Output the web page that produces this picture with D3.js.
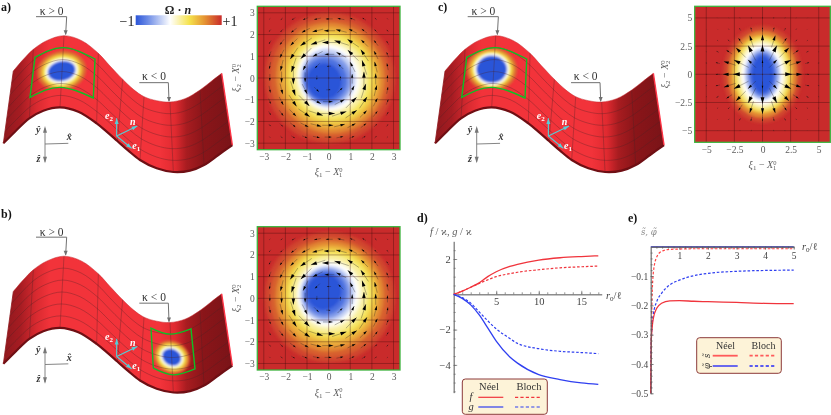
<!DOCTYPE html>
<html>
<head>
<meta charset="utf-8">
<script src="https://cdnjs.cloudflare.com/ajax/libs/d3/7.8.5/d3.min.js"></script>
<style>
  html, body { margin: 0; background: #fff; }
  svg { display: block; filter: blur(0.35px); font-family: "Liberation Serif", serif; }
</style>
</head>
<body>
<script>
// --- surface outline, read off panel a) in 3x zoom units
const sheetTop = [[40,213],[70,178],[100,148],[140,122],[192,107],[245,122],[295,160],[330,198],[368,238],[400,268],[432,290],[470,302],[510,306],[555,296],[600,270],[635,243],[665,220]];
const sheetBottom = [[10,430],[45,395],[88,355],[130,332],[180,322],[235,335],[290,370],[320,395],[352,423],[385,452],[420,480],[470,505],[520,516],[570,512],[612,495],[655,465],[697,435]];
const meshColumns = [2,4,6,8,10,12,14];
const meshRows = [1/6,2/6,3/6,4/6,5/6];
const shadeOffsets = [10,60,110,150,480,525,560,610,697];
const shadeColors = ['#8f181d','#a51c22','#d92a30','#f2333a','#f2333a','#e02a30','#a81c20','#8a1519','#7a1418'];

// --- colour bar / field colour
const colorValues = [-1,-0.72,-0.2,0.25,0.6,1];
const colorStops = ['#2b55d8','#6d8ce6','#ffffff','#f5e24c','#e59433','#c92b2b'];

// --- skyrmion spot on the sheet, [value, rx, ry]
const spotBandsA = [[0.75,74,60],[0.5,64,52],[0.25,57,46],[0,51,40],[-0.2,47,35],[-0.6,43,31],[-1,40,28]];
const spotBandsB = [[0.75,56,48],[0.5,49,42],[0.25,43,37],[0,38,32],[-0.2,34,28],[-0.6,31,25],[-1,28,23]];
const spotBandsC = [[0.75,76,66],[0.5,67,59],[0.25,60,53],[0,55,49],[-0.2,51,46],[-0.6,47,42],[-1,44,39]];
const patchA = {top:[[105,172],[190,143],[285,177]], bottom:[[90,292],[180,262],[280,294]]};
const patchB = {top:[[453,323],[510,341],[573,325]], bottom:[[460,443],[520,463],[585,445]]};

// --- heat maps: contour bands [value, rx, ry, cx, cy]
const heatBandsA = [[0.9,3.0,3.0,0.05,0],[0.8,2.75,2.75,0.05,0],[0.65,2.5,2.55,0.08,0],[0.5,2.3,2.35,0.08,0],[0.35,2.1,2.15,0.1,0],[0.2,1.92,1.98,0.1,0.02],[0.05,1.72,1.78,0.08,0.02],[-0.1,1.52,1.6,0.05,0.03],[-0.2,1.38,1.5,0,0.02],[-0.4,1.28,1.36,-0.03,0],[-0.65,1.14,1.2,-0.08,-0.05],[-0.85,1.0,1.04,-0.15,-0.1],[-1,0.8,0.85,-0.2,-0.15]];
const heatBandsB = [[0.9,3.0,3.0,0.05,0.05],[0.8,2.75,2.75,0.05,0.05],[0.65,2.5,2.55,0.05,0.1],[0.5,2.3,2.35,0.05,0.12],[0.35,2.12,2.15,0.07,0.17],[0.2,1.95,1.98,0.07,0.2],[0.05,1.75,1.8,0.05,0.2],[-0.1,1.52,1.58,0.02,0.2],[-0.2,1.38,1.45,-0.02,0.2],[-0.4,1.27,1.32,-0.06,0.2],[-0.65,1.12,1.18,-0.1,0.22],[-0.85,0.98,1.02,-0.15,0.25],[-1,0.8,0.85,-0.2,0.3]];
const heatBandsC = [[0.9,3.5,4.3,0,0],[0.65,3.05,3.85,0,0],[0.35,2.65,3.45,0,0],[0.15,2.4,3.2,0,0],[-0.05,2.12,2.95,0,0],[-0.2,1.85,2.65,0,0],[-0.5,1.58,2.28,0,0],[-0.8,1.28,2.0,0,0],[-1,1.0,1.7,0,0]];

// --- arrow field, rows top to bottom, columns left to right
const swirlAngle = [
  [225,219,211,202,191,180,169,158,149,141,135],
  [231,225,217,207,194,180,166,153,143,135,129],
  [239,233,225,214,198,180,162,146,135,127,121],
  [248,243,236,225,207,180,153,135,124,117,112],
  [259,256,252,243,225,180,135,117,108,104,101],
  [270,270,270,270,270,180, 90, 90, 90, 90, 90],
  [281,284,288,297,315,  0, 45, 63, 72, 76, 79],
  [292,297,304,315,333,  0, 27, 45, 56, 63, 68],
  [301,307,315,326,342,  0, 18, 34, 45, 53, 59],
  [309,315,323,333,346,  0, 14, 27, 37, 45, 51],
  [315,321,329,338,349,  0, 11, 22, 31, 39, 45]];
const swirlLength = [
  [1,2,3,4,5,5,5,4,3,2,1],
  [2,3,5,6.5,8,8,8,6.5,5,3,2],
  [3,5,7,10,11,11,11,10,7,5,3],
  [4,6.5,10,11,8,7,8,11,10,6.5,4],
  [5,8,11,8,5,3,5,8,11,8,5],
  [5,8,11,7,3,1,3,7,11,8,5],
  [5,8,11,8,5,3,5,8,11,8,5],
  [4,6.5,10,11,8,7,8,11,10,6.5,4],
  [3,5,7,10,11,11,11,10,7,5,3],
  [2,3,5,6.5,8,8,8,6.5,5,3,2],
  [1,2,3,4,5,5,5,4,3,2,1]];
const radialLength = [
  [0.2,0.3,0.5,0.7,1,1,1,0.7,0.5,0.3,0.2],
  [0.3,0.5,1,2,3,3,3,2,1,0.5,0.3],
  [0.5,1,2,5,9,10,9,5,2,1,0.5],
  [0.7,2,5,10,12,12,12,10,5,2,0.7],
  [1,3,9,12,8,5,8,12,9,3,1],
  [1,3,10,12,5,1,5,12,10,3,1],
  [1,3,9,12,8,5,8,12,9,3,1],
  [0.7,2,5,10,12,12,12,10,5,2,0.7],
  [0.5,1,2,5,9,10,9,5,2,1,0.5],
  [0.3,0.5,1,2,3,3,3,2,1,0.5,0.3],
  [0.2,0.3,0.5,0.7,1,1,1,0.7,0.5,0.3,0.2]];

// --- panel d)
const dX = [0,1,2,3,4,5,6.6,7.5,10,12.5,15,17];
const fNeel = [0,0.18,0.4,0.65,1.0,1.28,1.58,1.7,1.94,2.07,2.14,2.18];
const fBloch = [0,0.18,0.4,0.62,0.82,1.0,1.17,1.25,1.39,1.5,1.56,1.6];
const gNeel = [0,-0.23,-0.6,-1.17,-1.9,-2.65,-3.55,-3.9,-4.55,-4.83,-5.02,-5.1];
const gBloch = [0,-0.19,-0.5,-1.0,-1.5,-1.96,-2.5,-2.78,-3.08,-3.23,-3.3,-3.36];
const dXTicks = [5,10,15];
const dYTicks = [-4,-2,2];

// --- panel e)
const eX = [0,0.02,0.09,0.21,0.38,0.67,1,1.5,2,3,4,5];
const sNeel = [-0.5,-0.32,-0.245,-0.21,-0.193,-0.185,-0.184,-0.186,-0.1875,-0.19,-0.193,-0.194];
const sBloch = [-0.5,-0.3,-0.09,-0.035,-0.016,-0.009,-0.008,-0.007,-0.007,-0.007,-0.007,-0.007];
const phiNeel = [0,0,0,0,0,0,0,0,0,0,0,0];
const phiBloch = [-0.5,-0.32,-0.233,-0.1875,-0.159,-0.13,-0.114,-0.099,-0.091,-0.084,-0.081,-0.08];
const eXTicks = [1,2,3,4,5];
const eYTicks = [-0.5,-0.4,-0.3,-0.2,-0.1];

const width = 831, height = 415;
const red = '#f0343c', blue = '#2f3ff0';
const gray = '#5c5c5c';
const tildeFont = '"DejaVu Serif", serif';

const svg = d3.select('body').append('svg').attr('width', width).attr('height', height);
const defs = svg.append('defs');

const fieldColor = d3.scaleLinear().domain(colorValues).range(colorStops);
const z = d3.scaleLinear().domain([0, 720]).range([0, 240]); // zoom units -> px
const zline = d3.line().x(d => z(d[0])).y(d => z(d[1]));

[['soft2', 1.8], ['soft1', 0.9]].forEach(([id, s]) => {
  defs.append('filter').attr('id', id).attr('x', '-30%').attr('y', '-30%').attr('width', '160%').attr('height', '160%')
    .append('feGaussianBlur').attr('stdDeviation', s);
});

const shade = defs.append('linearGradient').attr('id', 'sheetShade')
  .attr('gradientUnits', 'userSpaceOnUse')
  .attr('x1', z(shadeOffsets[0])).attr('x2', z(shadeOffsets[shadeOffsets.length - 1])).attr('y1', 0).attr('y2', 0);
shadeOffsets.forEach((o, i) => {
  shade.append('stop')
    .attr('offset', (o - shadeOffsets[0]) / (shadeOffsets[shadeOffsets.length - 1] - shadeOffsets[0]))
    .attr('stop-color', shadeColors[i]);
});

const barGrad = defs.append('linearGradient').attr('id', 'colorBar');
colorValues.forEach((v, i) => {
  barGrad.append('stop').attr('offset', (v + 1) / 2).attr('stop-color', colorStops[i]);
});

const smooth = d3.line().x(d => z(d[0])).y(d => z(d[1])).curve(d3.curveCatmullRom);
const natural = d3.line().x(d => z(d[0])).y(d => z(d[1])).curve(d3.curveNatural);

// text with sub/superscripts: parts are [string, {dy, dx, size, italic, weight}]
function mathText(sel, parts) {
  parts.forEach(([s, o]) => {
    const t = sel.append('tspan').text(s);
    if (o && o.dy) t.attr('dy', o.dy);
    if (o && o.dx) t.attr('dx', o.dx);
    if (o && o.size) t.attr('font-size', o.size);
    if (o && o.italic) t.attr('font-style', 'italic');
    if (o && o.weight) t.attr('font-weight', o.weight);
    if (o && o.family) t.attr('font-family', o.family);
  });
  return sel;
}

function xiLabel(sel, n) {
  return mathText(sel, [
    ['ξ', {italic: true}], [n, {dy: 2, size: 7}], [' − ', {dy: -2}], ['X', {italic: true}],
    ['0', {dy: -3.5, size: 6.5}], [n, {dy: 5.5, dx: -3.5, size: 6.5}]
  ]);
}

function drawSheet(g, id, patch, spot, spotBands, spotAngle) {
  const outline = smooth(sheetTop) + 'L' + smooth(sheetBottom.slice().reverse()).slice(1) + 'Z';
  g.append('path').attr('d', outline).attr('fill', 'url(#sheetShade)');

  if (patch) {
    const d = natural(patch.top) + 'L' + natural(patch.bottom.slice().reverse()).slice(1) + 'Z';
    defs.append('clipPath').attr('id', 'patch' + id).append('path').attr('d', d);
    g.append('g').attr('clip-path', 'url(#patch' + id + ')')
      .append('g').attr('filter', 'url(#soft1)')
      .selectAll('ellipse').data(spotBands).join('ellipse')
      .attr('cx', z(spot[0])).attr('cy', z(spot[1]))
      .attr('rx', d => z(d[1])).attr('ry', d => z(d[2]))
      .attr('transform', 'rotate(' + spotAngle + ' ' + z(spot[0]) + ' ' + z(spot[1]) + ')')
      .attr('fill', d => fieldColor(d[0]));
  }

  // mesh
  const mesh = g.append('g').attr('fill', 'none').attr('stroke', '#4a2226').attr('stroke-opacity', 0.55).attr('stroke-width', 0.6);
  meshColumns.forEach(c => {
    mesh.append('line').attr('x1', z(sheetTop[c][0])).attr('y1', z(sheetTop[c][1]))
      .attr('x2', z(sheetBottom[c][0])).attr('y2', z(sheetBottom[c][1]));
  });
  meshRows.forEach(t => {
    const pts = sheetTop.map((p, i) => [p[0] + (sheetBottom[i][0] - p[0]) * t, p[1] + (sheetBottom[i][1] - p[1]) * t]);
    mesh.append('path').attr('d', smooth(pts));
  });

  if (patch) {
    const d = natural(patch.top) + 'L' + natural(patch.bottom.slice().reverse()).slice(1) + 'Z';
    g.append('path').attr('d', d).attr('fill', 'none').attr('stroke', '#0fbf25').attr('stroke-width', 1.4);
  }

  g.append('path').attr('d', smooth(sheetBottom)).attr('fill', 'none').attr('stroke', '#6f0f14').attr('stroke-width', 2.2);
  g.append('path').attr('d', smooth(sheetTop)).attr('fill', 'none').attr('stroke', '#c4262c').attr('stroke-width', 0.5);
  const last = sheetTop.length - 1;
  g.append('line').attr('x1', z(sheetTop[last][0])).attr('y1', z(sheetTop[last][1]))
    .attr('x2', z(sheetBottom[last][0])).attr('y2', z(sheetBottom[last][1]))
    .attr('stroke', '#ff3345').attr('stroke-width', 1.4);
  g.append('line').attr('x1', z(sheetTop[0][0])).attr('y1', z(sheetTop[0][1]))
    .attr('x2', z(sheetBottom[0][0])).attr('y2', z(sheetBottom[0][1]))
    .attr('stroke', '#8f181d').attr('stroke-width', 0.8);

  // curvature callouts
  [{line: [[108,50],[200,50],[197,103]], label: 'κ > 0', at: [155,46]},
   {line: [[418,248],[505,248],[507,303]], label: 'κ < 0', at: [462,241]}].forEach(c => {
    g.append('path').attr('d', zline(c.line)).attr('fill', 'none').attr('stroke', '#707070').attr('stroke-width', 1);
    const tip = c.line[2];
    g.append('path').attr('d', zline([[tip[0], tip[1] + 3],[tip[0] - 6, tip[1] - 12],[tip[0] + 6, tip[1] - 12]]) + 'Z')
      .attr('fill', '#707070');
    g.append('text').attr('x', z(c.at[0])).attr('y', z(c.at[1])).attr('text-anchor', 'middle')
      .attr('font-size', 11.5).attr('fill', '#333').text(c.label);
  });

  // lab frame
  const frame = g.append('g').attr('stroke', '#777').attr('fill', 'none').attr('stroke-width', 0.9);
  frame.append('line').attr('x1', z(135)).attr('y1', z(432)).attr('x2', z(135)).attr('y2', z(385));
  frame.append('line').attr('x1', z(135)).attr('y1', z(432)).attr('x2', z(135)).attr('y2', z(485));
  frame.append('line').attr('x1', z(135)).attr('y1', z(432)).attr('x2', z(205)).attr('y2', z(430));
  [[[135,378],[129,398],[141,398]], [[135,490],[129,470],[141,470]]].forEach(h => {
    g.append('path').attr('d', zline(h) + 'Z').attr('fill', '#777');
  });
  [['ŷ',115,398],['x̂',208,421],['ẑ',115,485]].forEach(l => {
    g.append('text').attr('x', z(l[1])).attr('y', z(l[2])).attr('text-anchor', 'middle')
      .attr('font-size', 10).attr('font-weight', 'bold').attr('font-style', 'italic').attr('fill', '#333').text(l[0]);
  });

  // local frame
  [[350,355],[412,378],[395,445]].forEach(tip => {
    const a = Math.atan2(tip[1] - 408, tip[0] - 350);
    g.append('line').attr('x1', z(350)).attr('y1', z(408)).attr('x2', z(tip[0])).attr('y2', z(tip[1]))
      .attr('stroke', '#54cfd8').attr('stroke-width', 1.1);
    const h = [[tip[0], tip[1]],
      [tip[0] - 17 * Math.cos(a) + 6 * Math.sin(a), tip[1] - 17 * Math.sin(a) - 6 * Math.cos(a)],
      [tip[0] - 17 * Math.cos(a) - 6 * Math.sin(a), tip[1] - 17 * Math.sin(a) + 6 * Math.cos(a)]];
    g.append('path').attr('d', zline(h) + 'Z').attr('fill', '#54cfd8');
  });
  [['e','2',315,358],['n','',390,375],['e','1',397,446]].forEach(l => {
    const t = g.append('text').attr('x', z(l[2])).attr('y', z(l[3])).attr('font-size', 10).attr('fill', '#fff').attr('font-weight', 'bold');
    mathText(t, [[l[0], {italic: true}]].concat(l[1] ? [[l[1], {dy: 2, size: 7}]] : []));
  });
}

function drawHeat(o) {
  const x = d3.scaleLinear().domain([-o.half, o.half]).range([o.left, o.right]);
  const y = d3.scaleLinear().domain([-o.half, o.half]).range([o.bottom, o.top]);
  const clip = 'heat' + o.id;
  defs.append('clipPath').attr('id', clip).append('rect')
    .attr('x', o.left).attr('y', o.top).attr('width', o.right - o.left).attr('height', o.bottom - o.top);
  const g = svg.append('g').attr('clip-path', 'url(#' + clip + ')');
  g.append('rect').attr('x', o.left).attr('y', o.top).attr('width', o.right - o.left).attr('height', o.bottom - o.top)
    .attr('fill', fieldColor(1));
  g.append('g').attr('filter', 'url(#soft2)')
    .selectAll('ellipse').data(o.bands).join('ellipse')
    .attr('cx', d => x(d[3])).attr('cy', d => y(d[4]))
    .attr('rx', d => x(d[1]) - x(0)).attr('ry', d => y(0) - y(d[2]))
    .attr('transform', d => 'rotate(' + o.tilt + ' ' + x(d[3]) + ' ' + y(d[4]) + ')')
    .attr('fill', d => fieldColor(d[0]));

  // grid
  g.selectAll('line.gx').data(o.grid).join('line').attr('class', 'gx')
    .attr('x1', d => x(d)).attr('x2', d => x(d)).attr('y1', o.top).attr('y2', o.bottom)
    .attr('stroke', '#3a0a0a').attr('stroke-opacity', 0.45).attr('stroke-width', 0.8);
  g.selectAll('line.gy').data(o.grid).join('line').attr('class', 'gy')
    .attr('y1', d => y(d)).attr('y2', d => y(d)).attr('x1', o.left).attr('x2', o.right)
    .attr('stroke', '#3a0a0a').attr('stroke-opacity', 0.45).attr('stroke-width', 0.8);

  // arrows
  const arrows = [];
  o.lengths.forEach((row, r) => row.forEach((len, c) => {
    arrows.push({gx: (c - 5) * o.step, gy: (5 - r) * o.step, len: len * 1.15, a: (swirlAngle[r][c] + o.turn) * Math.PI / 180});
  }));
  const ag = g.append('g');
  ag.selectAll('line').data(arrows).join('line')
    .attr('x1', d => x(d.gx) - Math.cos(d.a) * d.len * 0.7)
    .attr('y1', d => y(d.gy) + Math.sin(d.a) * d.len * 0.7)
    .attr('x2', d => x(d.gx) + Math.cos(d.a) * d.len * 0.5)
    .attr('y2', d => y(d.gy) - Math.sin(d.a) * d.len * 0.5)
    .attr('stroke', '#222').attr('stroke-opacity', 0.75).attr('stroke-width', 0.45);
  ag.selectAll('path').data(arrows).join('path')
    .attr('fill', '#000')
    .attr('d', d => {
      const tx = x(d.gx) + Math.cos(d.a) * d.len * 0.5, ty = y(d.gy) - Math.sin(d.a) * d.len * 0.5;
      const hl = d.len * 0.48, hw = d.len * 0.14;
      const bx = tx - Math.cos(d.a) * hl, by = ty + Math.sin(d.a) * hl;
      const px = Math.sin(d.a) * hw, py = Math.cos(d.a) * hw;
      return 'M' + tx + ',' + ty + 'L' + (bx + px) + ',' + (by + py) + 'L' + (bx - px) + ',' + (by - py) + 'Z';
    });

  svg.append('rect').attr('x', o.left).attr('y', o.top).attr('width', o.right - o.left).attr('height', o.bottom - o.top)
    .attr('fill', 'none').attr('stroke', '#3cb33c').attr('stroke-width', 1.3);

  const fmt = d => String(d).replace('-', '−');
  const ax = svg.append('g').attr('transform', 'translate(0,' + o.bottom + ')')
    .call(d3.axisBottom(x).tickValues(o.ticks).tickSize(0).tickPadding(3.5).tickFormat(fmt));
  const ay = svg.append('g').attr('transform', 'translate(' + o.left + ',0)')
    .call(d3.axisLeft(y).tickValues(o.ticks).tickSize(0).tickPadding(2.5).tickFormat(fmt));
  [ax, ay].forEach(a => {
    a.select('.domain').remove();
    a.selectAll('text').attr('font-family', '"Liberation Serif", serif').attr('font-size', 9.5).attr('fill', gray);
  });

  const xl = svg.append('text').attr('x', x(0)).attr('y', o.bottom + o.xlabelGap).attr('text-anchor', 'middle')
    .attr('font-size', 10).attr('fill', gray);
  xiLabel(xl, '1');
  const yl = svg.append('text').attr('transform', 'translate(' + o.ylabelX + ',' + y(0) + ') rotate(-90)').attr('text-anchor', 'middle')
    .attr('font-size', 10).attr('fill', gray);
  xiLabel(yl, '2');
}

function legend(o) {
  svg.append('rect').attr('x', o.x).attr('y', o.y).attr('width', o.w).attr('height', o.h).attr('rx', 3)
    .attr('fill', '#fdf3d8').attr('stroke', '#8c3a3a').attr('stroke-width', 1);
  ['Néel', 'Bloch'].forEach((s, i) => {
    svg.append('text').attr('x', o.heads[i]).attr('y', o.headY).attr('text-anchor', 'middle')
      .attr('font-size', o.font).attr('fill', '#333').text(s);
  });
  o.rows.forEach(r => {
    svg.append('line').attr('x1', o.solid[0]).attr('x2', o.solid[1]).attr('y1', r.y).attr('y2', r.y)
      .attr('stroke', r.color).attr('stroke-width', o.lw);
    svg.append('line').attr('x1', o.dash[0]).attr('x2', o.dash[1]).attr('y1', r.y).attr('y2', r.y)
      .attr('stroke', r.color).attr('stroke-width', o.lw).attr('stroke-dasharray', '3.2,2.2');
    const t = svg.append('text').attr('font-size', o.font).attr('font-style', 'italic').attr('fill', '#333')
      .attr('text-anchor', 'middle').text(r.label);
    if (o.rotated) t.attr('font-family', tildeFont).attr('font-size', 8.5).attr('transform', 'translate(' + (o.labelX + 3) + ',' + r.y + ') rotate(-90)');
    else t.attr('x', o.labelX).attr('y', r.y + 3);
  });
}

function curve(g, x, y, xs, ys, color, dashed, lw) {
  const line = d3.line().x((d, i) => x(xs[i])).y(d => y(d)).curve(d3.curveMonotoneX);
  g.append('path').attr('d', line(ys)).attr('fill', 'none').attr('stroke', color)
    .attr('stroke-width', lw).attr('stroke-dasharray', dashed ? '2.6,1.8' : null);
}

function styleAxis(a, size) {
  a.selectAll('path,line').attr('stroke', '#666').attr('stroke-width', 0.7);
  a.selectAll('text').attr('font-family', '"Liberation Serif", serif').attr('font-size', size).attr('fill', '#444');
}

// ---------- panel letters
[['a)', 1, 11], ['b)', 1, 218], ['c)', 438, 11], ['d)', 417, 222], ['e)', 628, 222]].forEach(l => {
  svg.append('text').attr('x', l[1]).attr('y', l[2]).attr('font-size', 12).attr('font-weight', 'bold').attr('fill', '#111').text(l[0]);
});

// ---------- surfaces
drawSheet(svg.append('g'), 'a', patchA, [185,213], spotBandsA, -12);
drawSheet(svg.append('g').attr('transform', 'translate(0,220.5)'), 'b', patchB, [515,410], spotBandsB, 30);
drawSheet(svg.append('g').attr('transform', 'translate(431.7,0)'), 'c', patchA, [180,208], spotBandsC, 0);

// ---------- colour bar
svg.append('rect').attr('x', 135.7).attr('y', 15.3).attr('width', 86).attr('height', 9.7).attr('fill', 'url(#colorBar)');
svg.append('text').attr('x', 134.5).attr('y', 25.5).attr('text-anchor', 'end').attr('font-size', 14).attr('fill', '#222').text('−1');
svg.append('text').attr('x', 222.5).attr('y', 25.5).attr('font-size', 14).attr('fill', '#222').text('+1');
mathText(svg.append('text').attr('x', 178).attr('y', 13.5).attr('text-anchor', 'middle').attr('font-size', 12).attr('font-weight', 'bold').attr('fill', '#222'),
  [['Ω · '], ['n', {italic: true}]]);

// ---------- heat maps
const unitGrid = [-3,-2,-1,0,1,2,3];
drawHeat({id: 'a', left: 257.3, right: 400, top: 6.3, bottom: 149.7, half: 3.3, bands: heatBandsA, tilt: -18,
  lengths: swirlLength, turn: 0, step: 0.544, grid: unitGrid, ticks: unitGrid, xlabelGap: 25.5, ylabelX: 239});
drawHeat({id: 'b', left: 257.3, right: 400, top: 226.7, bottom: 370, half: 3.3, bands: heatBandsB, tilt: 20,
  lengths: swirlLength, turn: 0, step: 0.544, grid: unitGrid, ticks: unitGrid, xlabelGap: 25.5, ylabelX: 239});
drawHeat({id: 'c', left: 694.7, right: 830.3, top: 6.3, bottom: 142.3, half: 6.03, bands: heatBandsC, tilt: 0,
  lengths: radialLength, turn: -90, step: 1, grid: [-5,-2.5,0,2.5,5], ticks: [-5,-2.5,0,2.5,5], xlabelGap: 26, ylabelX: 668});

// ---------- panel d
const dx = d3.scaleLinear().domain([0, 17.4]).range([453.7, 601.7]);
const dy = d3.scaleLinear().domain([0, 2]).range([294.3, 259]);
const dyAxis = dy.copy().domain([-5.57, 3]).range([dy(-5.57), dy(3)]);
const dPlot = svg.append('g');
dPlot.append('g').attr('transform', 'translate(0,' + dy(0) + ')').call(g => {
  g.call(d3.axisBottom(dx).tickValues(d3.range(1, 18)).tickSizeOuter(0).tickSizeInner(-2).tickFormat(''));
  styleAxis(g, 10);
});
dPlot.append('g').attr('transform', 'translate(0,' + dy(0) + ')').call(g => {
  g.call(d3.axisBottom(dx).tickValues(dXTicks).tickSizeOuter(0).tickSizeInner(-3.5).tickPadding(3));
  styleAxis(g, 10.5);
});
dPlot.append('g').attr('transform', 'translate(' + dx(0) + ',0)').call(g => {
  g.call(d3.axisLeft(dyAxis).tickValues(d3.range(-5.5, 3, 0.5)).tickSizeOuter(0).tickSizeInner(-2).tickFormat(''));
  styleAxis(g, 10);
});
dPlot.append('g').attr('transform', 'translate(' + dx(0) + ',0)').call(g => {
  g.call(d3.axisLeft(dyAxis).tickValues(dYTicks).tickSizeOuter(0).tickSizeInner(-3.5).tickPadding(3).tickFormat(d => String(d).replace('-', '−')));
  styleAxis(g, 10.5);
});
curve(dPlot, dx, dy, dX, fBloch, red, true, 1.2);
curve(dPlot, dx, dy, dX, gBloch, blue, true, 1.2);
curve(dPlot, dx, dy, dX, fNeel, red, false, 1.3);
curve(dPlot, dx, dy, dX, gNeel, blue, false, 1.3);
mathText(svg.append('text').attr('x', 430).attr('y', 235).attr('font-size', 10.5).attr('fill', gray),
  [['f', {italic: true}], [' / ϰ,  '], ['g', {italic: true}], [' / ϰ']]);
mathText(svg.append('text').attr('x', 606).attr('y', 298.5).attr('font-size', 10.5).attr('fill', '#444'),
  [['r', {italic: true}], ['0', {dy: 2, size: 7}], ['/ℓ', {dy: -2}]]);
legend({x: 462.3, y: 379, w: 85, h: 35.3, font: 10.5, heads: [489, 529], headY: 389.5, lw: 1.2,
  solid: [478.3, 503.3], dash: [515, 541],
  rows: [{y: 397.3, color: red, label: 'f'}, {y: 407, color: blue, label: 'g'}], labelX: 471});

// ---------- panel e
const ex = d3.scaleLinear().domain([0, 5]).range([650.7, 793.7]);
const ey = d3.scaleLinear().domain([-0.5, 0]).range([393.3, 246.7]);
const ePlot = svg.append('g');
curve(ePlot, ex, ey, eX, phiNeel, '#6a6ae8', false, 1.6);
curve(ePlot, ex, ey, eX, sBloch, '#f44', true, 1.2);
curve(ePlot, ex, ey, eX, phiBloch, blue, true, 1.2);
curve(ePlot, ex, ey, eX, sNeel, red, false, 1.3);
ePlot.append('g').attr('transform', 'translate(0,' + ey(0) + ')').call(g => {
  g.call(d3.axisBottom(ex).tickValues(d3.range(0.2, 5.01, 0.2)).tickSizeOuter(0).tickSizeInner(2).tickFormat(''));
  g.selectAll('path,line').attr('stroke', '#444').attr('stroke-width', 0.6);
  g.select('.domain').attr('stroke', '#333').attr('stroke-width', 0.8);
});
ePlot.append('g').attr('transform', 'translate(0,' + ey(0) + ')').call(g => {
  g.call(d3.axisBottom(ex).tickValues(eXTicks).tickSizeOuter(0).tickSizeInner(3).tickPadding(2.5).tickFormat(d3.format('d')));
  styleAxis(g, 9.5);
});
ePlot.append('g').attr('transform', 'translate(' + ex(0) + ',0)').call(g => {
  g.call(d3.axisLeft(ey).tickValues(d3.range(-0.5, 0, 0.02)).tickSizeOuter(0).tickSizeInner(-2).tickFormat(''));
  g.selectAll('path,line').attr('stroke', '#444').attr('stroke-width', 0.6);
});
ePlot.append('g').attr('transform', 'translate(' + ex(0) + ',0)').call(g => {
  g.call(d3.axisLeft(ey).tickValues(eYTicks).tickSizeOuter(0).tickSizeInner(-3).tickPadding(2.5).tickFormat(d => d3.format('.1f')(d).replace('-', '−')));
  styleAxis(g, 9.5);
});
mathText(svg.append('text').attr('x', 641).attr('y', 235).attr('font-size', 8.5).attr('font-family', tildeFont).attr('fill', '#888'),
  [['s̃,  ', {italic: true}], ['φ̃', {italic: true}]]);
mathText(svg.append('text').attr('x', 802).attr('y', 250).attr('font-size', 10.5).attr('fill', '#444'),
  [['r', {italic: true}], ['0', {dy: 2, size: 7}], ['/ℓ', {dy: -2}]]);
legend({x: 696.7, y: 337.7, w: 84.6, h: 35.6, font: 10, heads: [725.5, 763.5], headY: 348.5, lw: 1.8,
  solid: [712.7, 737.7], dash: [749.5, 775],
  rows: [{y: 355.7, color: '#ff5a5a', label: 's̃'}, {y: 366, color: '#5a5af0', label: 'φ̃'}], labelX: 707, rotated: true});
</script>
</body>
</html>
